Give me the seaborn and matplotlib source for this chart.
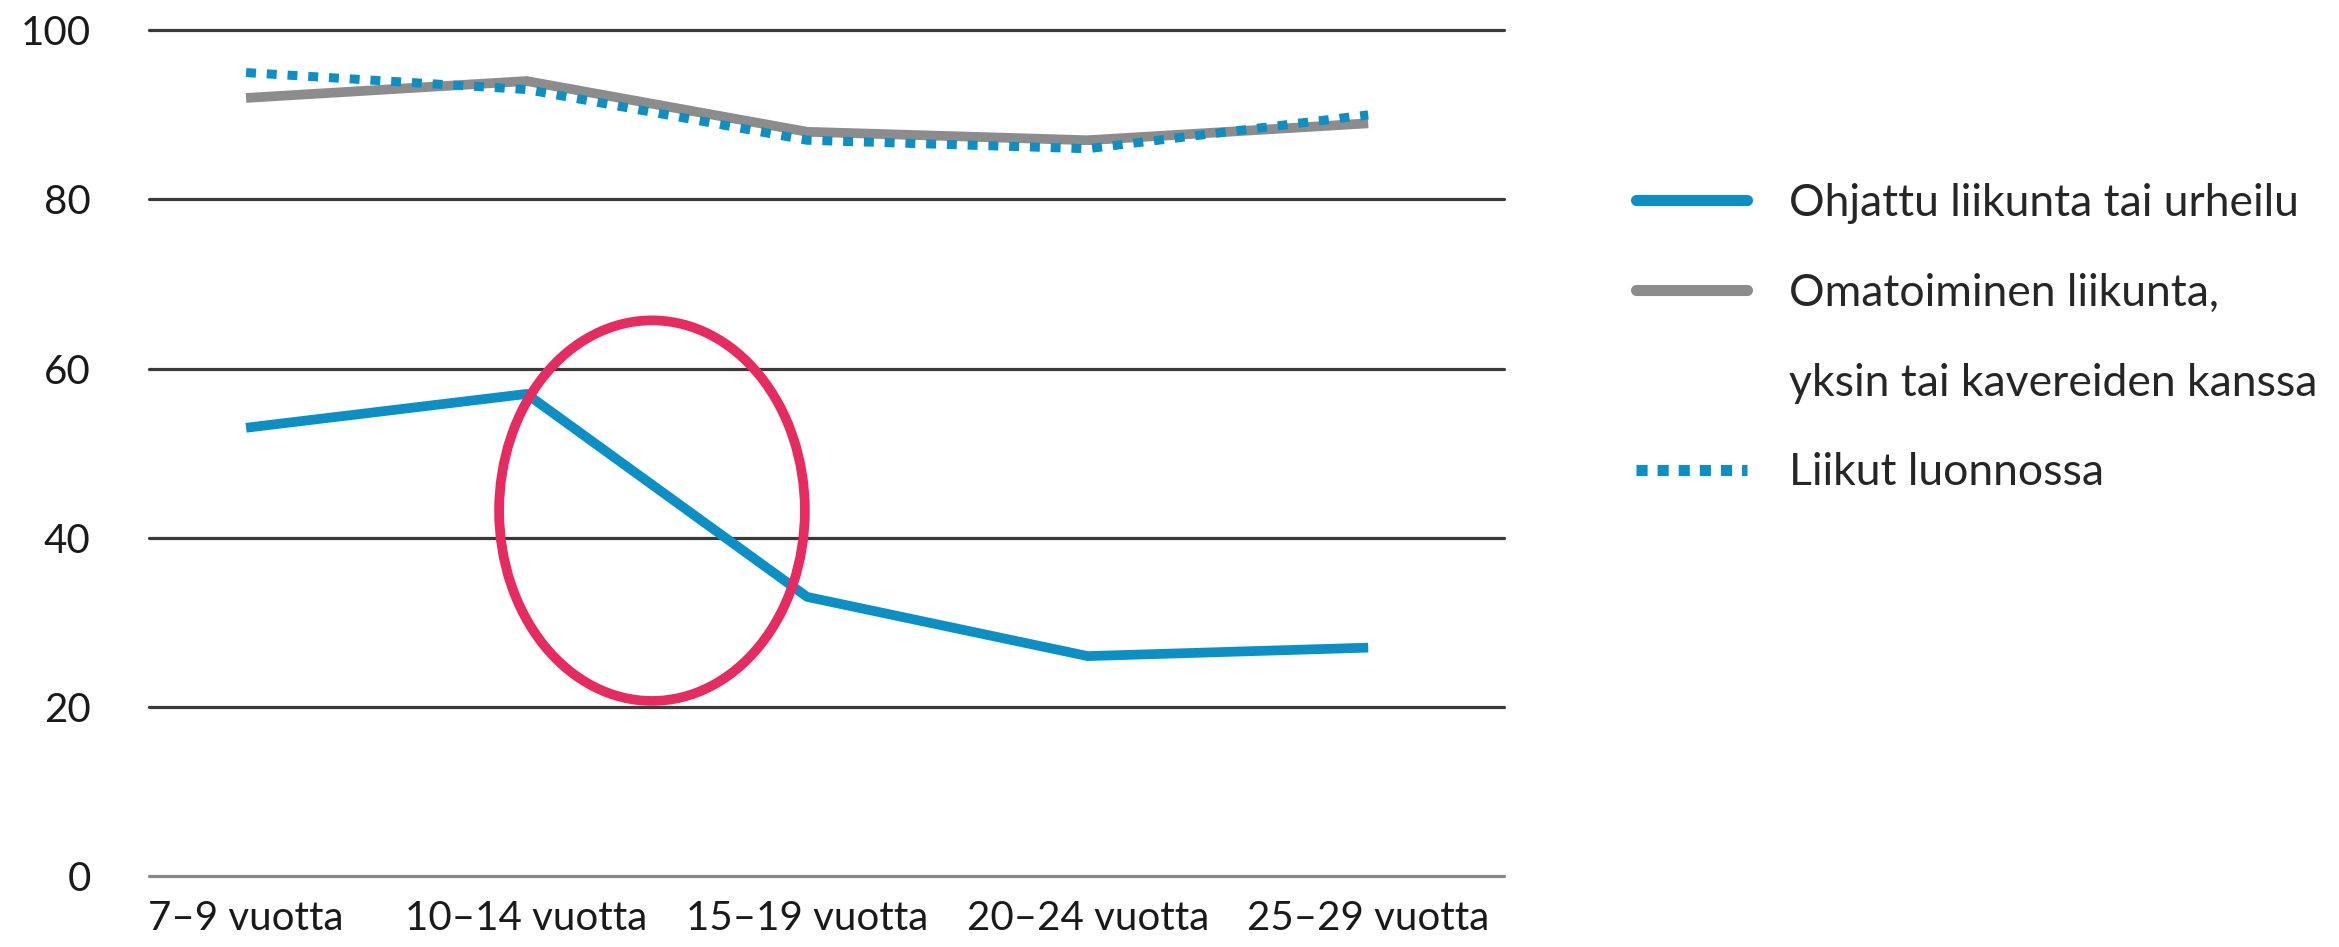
import pandas as pd
import matplotlib
matplotlib.use("Agg")
import matplotlib.pyplot as plt
from matplotlib.lines import Line2D
from matplotlib.patches import Ellipse
import seaborn as sns

# data
ages = ["7–9 vuotta", "10–14 vuotta", "15–19 vuotta", "20–24 vuotta", "25–29 vuotta"]
ohjattu = [53, 57, 33, 26, 27]
omatoiminen = [92, 94, 88, 87, 89]
luonnossa = [95, 93, 87, 86, 90]
y_ticks = [0, 20, 40, 60, 80, 100]

blue = "#0b8fc4"
grey = "#8c8c8c"
red = "#e52b60"

sns.set_theme(style="white")
plt.rcParams["font.family"] = ["Lato", "DejaVu Sans"]

df = pd.DataFrame({"ika": ages, "ohjattu": ohjattu,
                   "omatoiminen": omatoiminen, "luonnossa": luonnossa})

fig = plt.figure(figsize=(23.39, 9.47), dpi=100)
ax = fig.add_axes([0.0637, 0.075, 0.5793, 0.893])

# gridlines
for t in y_ticks:
    ax.axhline(t, color="#888888" if t == 0 else "#3a3a3a", lw=2.3, zorder=1, clip_on=False)

sns.lineplot(data=df, x="ika", y="omatoiminen", color=grey, lw=7, ax=ax,
             solid_capstyle="butt", sort=False, zorder=3)
sns.lineplot(data=df, x="ika", y="luonnossa", color=blue, lw=6.5, ax=ax,
             sort=False, zorder=4)
ax.lines[-1].set_linestyle((0, (1.1, 1.2)))
sns.lineplot(data=df, x="ika", y="ohjattu", color=blue, lw=7, ax=ax,
             solid_capstyle="butt", sort=False, zorder=3)

# red circle highlighting the drop
ax.add_patch(Ellipse((1.447, 43.2), 1.09, 45, fill=False, edgecolor=red, lw=7, zorder=5))

ax.set_xlim(-0.346, 4.484)
ax.set_ylim(0, 100)
ax.set_yticks(y_ticks)
ax.set_xticks(range(len(ages)))
ax.set_xticklabels(ages)
ax.tick_params(axis="both", labelsize=29, colors="#1a1a1a", length=0)
ax.tick_params(axis="y", pad=42)
ax.tick_params(axis="x", pad=17)
ax.set_xlabel("")
ax.set_ylabel("")
for s in ax.spines.values():
    s.set_visible(False)

handles = [
    Line2D([], [], color=blue, lw=8),
    Line2D([], [], color=grey, lw=8),
    Line2D([], [], alpha=0),
    Line2D([], [], color=blue, lw=8, linestyle=(0, (1, 0.9))),
]
labels = ["Ohjattu liikunta tai urheilu", "Omatoiminen liikunta,",
          "yksin tai kavereiden kanssa", "Liikut luonnossa"]
fig.legend(handles, labels, loc="upper left", bbox_to_anchor=(0.6995, 0.807),
           frameon=False, fontsize=32, handlelength=2.5, handletextpad=0.95,
           labelspacing=1.1, borderpad=0, borderaxespad=0)

fig.savefig("out.png", dpi=100)
